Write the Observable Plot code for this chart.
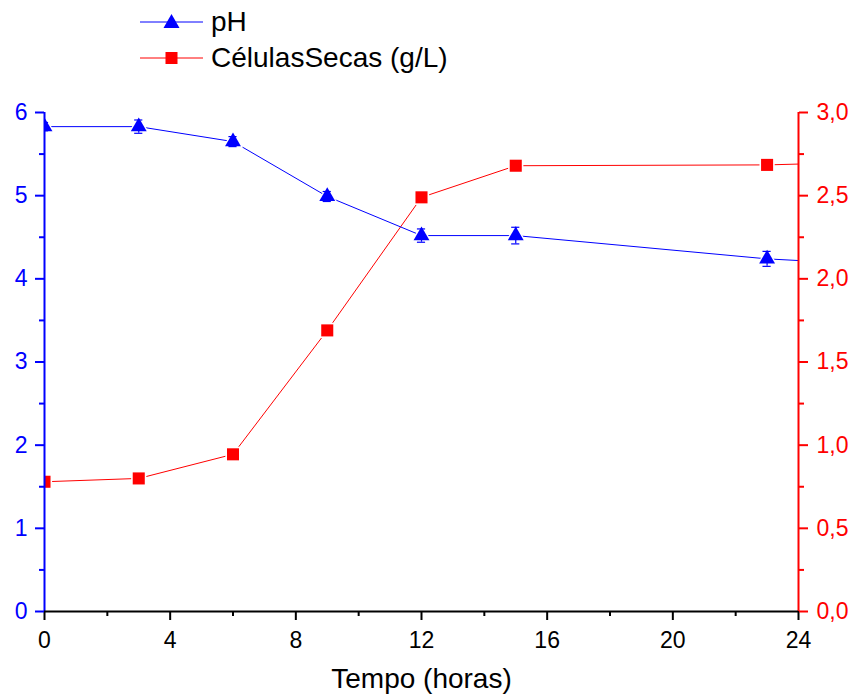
<!DOCTYPE html>
<html><head><meta charset="utf-8">
<script src="https://cdn.jsdelivr.net/npm/d3@7"></script>
<script src="https://cdn.jsdelivr.net/npm/@observablehq/plot@0.6"></script>
<style>
body{margin:0;background:#fff;font-family:"Liberation Sans",Arial,sans-serif}
#wrap{position:relative;width:852px;height:697px}
.leg{position:absolute;left:140px;height:30px;display:flex;align-items:center;font-size:28px;color:#000;white-space:nowrap}
.leg svg{margin-right:8px}
</style>
</head><body><div id="wrap">
<div class="leg" style="top:7px"><svg width="63" height="20"><line x1="0" y1="10" x2="63" y2="10" stroke="#0000ff" stroke-width="1"/><path d="M31.5,2 L39.5,16 L23.5,16 Z" fill="#0000ff"/></svg><span>pH</span></div>
<div class="leg" style="top:43px"><svg width="63" height="20"><line x1="0" y1="10" x2="63" y2="10" stroke="#ff0000" stroke-width="1"/><rect x="25.5" y="4" width="12" height="12" fill="#ff0000"/></svg><span>CélulasSecas (g/L)</span></div>
</div>
<script>
const tempo = [0, 3, 6, 9, 12, 15, 23, 27];
const pH = [5.83, 5.83, 5.65, 4.99, 4.52, 4.52, 4.24, 4.16];
const pHErr = [0.05, 0.08, 0.06, 0.06, 0.08, 0.1, 0.09, 0.05];
const celulas = [0.78, 0.80, 0.945, 1.69, 2.49, 2.68, 2.685, 2.705];
const xTicks = [0, 4, 8, 12, 16, 20, 24];
const xMinor = [2, 6, 10, 14, 18, 22];
const yTicks = [0, 1, 2, 3, 4, 5, 6];
const yMinor = [0.5, 1.5, 2.5, 3.5, 4.5, 5.5];
const rightTicks = [0, 0.5, 1, 1.5, 2, 2.5, 3];
const rightMinor = [0.25, 0.75, 1.25, 1.75, 2.25, 2.75];

const blue = "#0000ff", red = "#ff0000";
const data = tempo.map((t, i) => ({t, ph: pH[i], e: pHErr[i], c: celulas[i] * 2}));
const capW = 0.13;
const fmtR = d => d.toFixed(1).replace(".", ",");

const chart = Plot.plot({
  width: 852, height: 697,
  marginLeft: 44, marginRight: 54, marginTop: 112, marginBottom: 86,
  x: {domain: [0, 24]},
  y: {domain: [0, 6]},
  style: {fontFamily: "'Liberation Sans', Arial, sans-serif", fontSize: "23px", background: "white", overflow: "visible"},
  marks: [
    Plot.line(data, {x: "t", y: "c", stroke: red, strokeWidth: 1, clip: true}),
    Plot.line(data, {x: "t", y: "ph", stroke: blue, strokeWidth: 1, clip: true}),
    Plot.dot(data, {x: "t", y: "c", symbol: "square", r: 8.6, fill: "white", clip: true}),
    Plot.dot(data, {x: "t", y: "ph", symbol: "triangle", r: 7.6, fill: "white", clip: true}),
    Plot.ruleX(data, {x: "t", y1: d => d.ph - d.e, y2: d => d.ph + d.e, stroke: blue, strokeWidth: 1.2, clip: true}),
    Plot.ruleY(data, {y: d => d.ph - d.e, x1: d => d.t - capW, x2: d => d.t + capW, stroke: blue, strokeWidth: 1.2, clip: true}),
    Plot.ruleY(data, {y: d => d.ph + d.e, x1: d => d.t - capW, x2: d => d.t + capW, stroke: blue, strokeWidth: 1.2, clip: true}),
    Plot.dot(data, {x: "t", y: "c", symbol: "square", r: 6.8, fill: red, clip: true}),
    Plot.dot(data, {x: "t", y: "ph", symbol: "triangle", r: 5.9, fill: blue, clip: true}),
    // bottom axis
    Plot.axisX({ticks: xTicks, tickSize: 9, tickPadding: 11, strokeWidth: 2, stroke: "black", fill: "black", fontSize: 23, tickFormat: d => String(d), label: null}),
    Plot.axisX({ticks: xMinor, tickSize: 5, strokeWidth: 2, stroke: "black", tickFormat: () => "", label: null}),
    // left axis
    Plot.axisY({anchor: "left", ticks: yTicks, tickSize: 9, tickPadding: 8, strokeWidth: 2, stroke: blue, fill: blue, fontSize: 23, tickFormat: d => String(d), label: null}),
    Plot.axisY({anchor: "left", ticks: yMinor, tickSize: 5, strokeWidth: 2, stroke: blue, tickFormat: () => "", label: null}),
    // right axis (cells, scaled x2)
    Plot.axisY({anchor: "right", ticks: rightTicks.map(v => v * 2), tickSize: 9, tickPadding: 9, strokeWidth: 2, stroke: red, fill: red, fontSize: 23, tickFormat: d => fmtR(d / 2), label: null}),
    Plot.axisY({anchor: "right", ticks: rightMinor.map(v => v * 2), tickSize: 5, strokeWidth: 2, stroke: red, tickFormat: () => "", label: null}),
    Plot.ruleX([0], {stroke: blue, strokeWidth: 2}),
    Plot.ruleX([24], {stroke: red, strokeWidth: 2}),
    Plot.ruleY([0], {stroke: "black", strokeWidth: 2}),
    Plot.text(["Tempo (horas)"], {text: d => d, frameAnchor: "bottom", dy: 76, fontSize: 28, fill: "black"})
  ]
});
chart.style.position = "absolute";
chart.style.left = "0";
chart.style.top = "0";
document.getElementById("wrap").prepend(chart);
</script>
</body></html>
